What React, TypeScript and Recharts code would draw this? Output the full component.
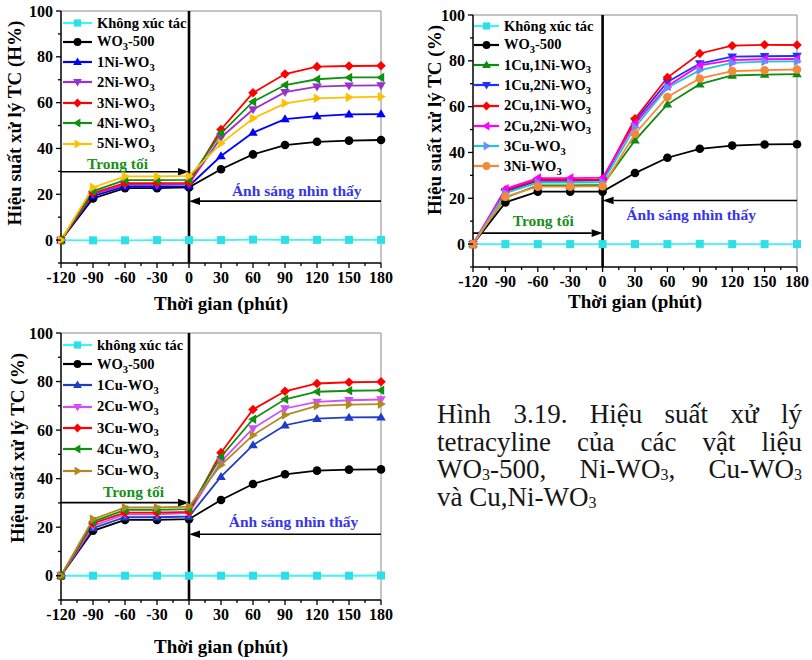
import React from 'react'
import { Legend, Line, LineChart, ReferenceDot, ReferenceLine, XAxis, YAxis } from 'recharts'

const FONT = '"Liberation Serif", "Times New Roman", Times, serif'

// thời gian (phút)
const times = [-120, -90, -60, -30, 0, 30, 60, 90, 120, 150, 180]
const xTicks = [-120, -105, -90, -75, -60, -45, -30, -15, 0, 15, 30, 45, 60, 75, 90, 105, 120, 135, 150, 165, 180]
const yTicks = [-10, 0, 10, 20, 30, 40, 50, 60, 70, 80, 90, 100]

// hình a: Ni-WO3
const khongXucTacA = [0, -0.1, -0.1, 0, 0, 0, 0.2, 0.1, 0.1, 0.1, 0.1]
const wo3A = [0, 18.2, 22.7, 22.7, 23.0, 30.9, 37.4, 41.5, 42.9, 43.4, 43.7]
const ni1 = [0, 19.2, 23.4, 23.4, 23.6, 36.7, 46.9, 52.8, 54.1, 54.9, 55.0]
const ni2 = [0, 20.0, 24.1, 24.1, 24.5, 44.8, 57.0, 64.6, 67.0, 67.4, 67.5]
const ni3 = [0, 20.6, 24.9, 24.9, 25.0, 48.3, 64.3, 72.5, 75.7, 76.0, 76.1]
const ni4 = [0, 21.4, 26.2, 26.2, 26.3, 46.6, 60.4, 67.7, 70.2, 71.0, 71.0]
const ni5 = [0, 23.0, 27.8, 27.8, 28.0, 42.2, 53.1, 59.7, 61.9, 62.3, 62.6]

// hình b: Cu,Ni-WO3
const khongXucTacB = [0, 0, 0, 0, 0, 0, 0, 0.1, 0, 0, 0]
const wo3B = [0, 18.2, 22.9, 22.9, 22.9, 31.0, 37.7, 41.6, 43.0, 43.5, 43.6]
const cu1ni1 = [0, 20.3, 25.6, 25.6, 25.8, 45.3, 61.0, 69.8, 73.6, 74.0, 74.2]
const cu1ni2 = [0, 23.0, 27.6, 27.6, 27.8, 53.7, 70.8, 78.8, 81.8, 82.0, 82.1]
const cu2ni1 = [0, 23.6, 28.0, 28.0, 28.2, 54.7, 72.7, 83.2, 86.6, 87.0, 86.9]
const cu2ni2 = [0, 24.1, 28.8, 28.8, 29.0, 52.6, 68.9, 78.0, 80.3, 80.7, 80.8]
const cu3B = [0, 22.2, 26.8, 26.8, 27.0, 51.0, 68.3, 75.9, 79.1, 79.7, 79.8]
const ni3B = [0, 20.7, 25.1, 25.1, 25.3, 48.2, 64.2, 72.3, 75.5, 75.9, 76.2]

// hình c: Cu-WO3
const khongXucTacC = [0, 0, 0, 0, 0, 0, 0, 0, 0, 0, 0.1]
const wo3C = [0, 18.5, 23.0, 23.0, 23.3, 31.2, 37.8, 41.8, 43.3, 43.7, 43.8]
const cu1 = [0, 19.6, 24.1, 24.1, 24.4, 40.8, 53.8, 62.0, 64.7, 65.2, 65.3]
const cu2 = [0, 20.5, 25.3, 25.3, 25.8, 47.0, 60.7, 68.9, 71.6, 72.3, 72.6]
const cu3 = [0, 21.6, 26.0, 26.0, 26.3, 50.7, 68.5, 76.0, 79.2, 79.7, 79.9]
const cu4 = [0, 22.3, 27.1, 27.1, 27.4, 49.0, 64.5, 72.7, 75.8, 76.2, 76.4]
const cu5 = [0, 23.3, 28.1, 28.1, 28.5, 45.6, 57.9, 66.2, 70.0, 70.5, 70.7]

// vị trí mũi tên / chữ chú thích (x phút, y %)
const darkArrowY = [29.8, 4.8, 30.1]
const lightArrowY = [17.0, 19.0, 17.1]
const darkTextPos = [[-67, 33.5], [-55, 10.2], [-52, 34.7]]
const lightTextPos = [[101, 21.8], [82, 13.1], [98, 22.3]]

type Shape = 'square' | 'circle' | 'up' | 'down' | 'diamond' | 'left' | 'right'

interface Series {
  key: string
  name: string
  values: number[]
  color: string
  marker?: string
  shape: Shape
}

const CYAN = '#3ff4f4'
const CYAN_MK = '#2ee0e6'

const seriesA: Series[] = [
  { key: 'k', name: 'Không xúc tác', values: khongXucTacA, color: CYAN, marker: CYAN_MK, shape: 'square' },
  { key: 'w', name: 'WO3-500', values: wo3A, color: '#000', shape: 'circle' },
  { key: 'n1', name: '1Ni-WO3', values: ni1, color: '#0000ff', shape: 'up' },
  { key: 'n2', name: '2Ni-WO3', values: ni2, color: '#9b30d0', shape: 'down' },
  { key: 'n3', name: '3Ni-WO3', values: ni3, color: '#ff0000', shape: 'diamond' },
  { key: 'n4', name: '4Ni-WO3', values: ni4, color: '#109010', shape: 'left' },
  { key: 'n5', name: '5Ni-WO3', values: ni5, color: '#ffc000', shape: 'right' },
]

const seriesB: Series[] = [
  { key: 'k', name: 'Không xúc tác', values: khongXucTacB, color: CYAN, marker: CYAN_MK, shape: 'square' },
  { key: 'w', name: 'WO3-500', values: wo3B, color: '#000', shape: 'circle' },
  { key: 'a', name: '1Cu,1Ni-WO3', values: cu1ni1, color: '#108a10', shape: 'up' },
  { key: 'b', name: '1Cu,2Ni-WO3', values: cu1ni2, color: '#2030ff', shape: 'down' },
  { key: 'c', name: '2Cu,1Ni-WO3', values: cu2ni1, color: '#ff0000', shape: 'diamond' },
  { key: 'd', name: '2Cu,2Ni-WO3', values: cu2ni2, color: '#ff00ff', shape: 'left' },
  { key: 'e', name: '3Cu-WO3', values: cu3B, color: '#20c8c8', marker: '#6a8cff', shape: 'right' },
  { key: 'f', name: '3Ni-WO3', values: ni3B, color: '#f28a3a', shape: 'circle' },
]

const seriesC: Series[] = [
  { key: 'k', name: 'không xúc tác', values: khongXucTacC, color: CYAN, marker: CYAN_MK, shape: 'square' },
  { key: 'w', name: 'WO3-500', values: wo3C, color: '#000', shape: 'circle' },
  { key: 'c1', name: '1Cu-WO3', values: cu1, color: '#1e3cc8', shape: 'up' },
  { key: 'c2', name: '2Cu-WO3', values: cu2, color: '#d050f8', shape: 'down' },
  { key: 'c3', name: '3Cu-WO3', values: cu3, color: '#ff0000', shape: 'diamond' },
  { key: 'c4', name: '4Cu-WO3', values: cu4, color: '#109010', shape: 'left' },
  { key: 'c5', name: '5Cu-WO3', values: cu5, color: '#b08a20', shape: 'right' },
]

function MarkerShape({ shape, cx, cy, fill, r = 4 }: { shape: Shape; cx: number; cy: number; fill: string; r?: number }) {
  if (cx == null || cy == null) return null
  const a = r + 0.8
  switch (shape) {
    case 'square':
      return <rect x={cx - r} y={cy - r} width={2 * r} height={2 * r} fill={fill} />
    case 'circle':
      return <circle cx={cx} cy={cy} r={r + 0.3} fill={fill} />
    case 'up':
      return <polygon points={`${cx},${cy - a} ${cx + a},${cy + r * 0.8} ${cx - a},${cy + r * 0.8}`} fill={fill} />
    case 'down':
      return <polygon points={`${cx},${cy + a} ${cx + a},${cy - r * 0.8} ${cx - a},${cy - r * 0.8}`} fill={fill} />
    case 'diamond':
      return <polygon points={`${cx},${cy - a} ${cx + a},${cy} ${cx},${cy + a} ${cx - a},${cy}`} fill={fill} />
    case 'left':
      return <polygon points={`${cx - a},${cy} ${cx + r * 0.8},${cy - a} ${cx + r * 0.8},${cy + a}`} fill={fill} />
    case 'right':
      return <polygon points={`${cx + a},${cy} ${cx - r * 0.8},${cy - a} ${cx - r * 0.8},${cy + a}`} fill={fill} />
  }
  return null
}

// "WO3" -> WO với số 3 viết dưới
function renderName(name: string, subSize: number) {
  const parts = name.split('WO3')
  const out: React.ReactNode[] = []
  parts.forEach((p, i) => {
    out.push(<span key={`p${i}`}>{p}</span>)
    if (i < parts.length - 1) {
      out.push(<span key={`w${i}`}>WO</span>)
      out.push(
        <span key={`s${i}`} style={{ fontSize: subSize, position: 'relative', top: subSize * 0.35 }}>
          3
        </span>,
      )
    }
  })
  return out
}

function LegendBox({ series, rowH, lineLen }: { series: Series[]; rowH: number; lineLen: number }) {
  return (
    <div style={{ fontFamily: FONT, fontWeight: 'bold', fontSize: 14.5, color: '#000', lineHeight: 1 }}>
      {series.map((s, i) => (
        <div key={s.key} style={{ display: 'flex', alignItems: 'center', height: i === 0 ? 17 : rowH }}>
          <svg width={lineLen} height={12} style={{ flex: 'none' }}>
            <line x1={0} y1={6} x2={lineLen} y2={6} stroke={s.color} strokeWidth={2.2} />
            <MarkerShape shape={s.shape} cx={lineLen / 2} cy={6} fill={s.marker ?? s.color} r={3.6} />
          </svg>
          <span style={{ marginLeft: 5, whiteSpace: 'nowrap' }}>{renderName(s.name, 10.5)}</span>
        </div>
      ))}
    </div>
  )
}

const XTick = (props: any) => {
  const { x, y, payload } = props
  const major = payload.value % 30 === 0
  return (
    <g>
      <line x1={x} y1={y} x2={x} y2={y + (major ? 5 : 3)} stroke="#000" strokeWidth={1.3} />
      {major && (
        <text x={x} y={y + 20} textAnchor="middle" fontFamily={FONT} fontWeight="bold" fontSize={16} fill="#000">
          {payload.value}
        </text>
      )}
    </g>
  )
}

const YTick = (props: any) => {
  const { x, y, payload } = props
  const major = payload.value % 20 === 0
  return (
    <g>
      <line x1={x} y1={y} x2={x - (major ? 5 : 3)} y2={y} stroke="#000" strokeWidth={1.3} />
      {major && (
        <text x={x - 8} y={y + 5.5} textAnchor="end" fontFamily={FONT} fontWeight="bold" fontSize={16} fill="#000">
          {payload.value}
        </text>
      )}
    </g>
  )
}

const arrowShape = (dir: 'left' | 'right') => (p: any) => {
  const { x1, y1, x2, y2 } = p
  const base = dir === 'right' ? x2 - 11 : x2 + 11
  return (
    <g>
      <line x1={x1} y1={y1} x2={base} y2={y2} stroke="#000" strokeWidth={1.6} />
      <polygon points={`${x2},${y2} ${base},${y2 - 3.8} ${base},${y2 + 3.8}`} fill="#000" />
    </g>
  )
}

const noteShape = (text: string, color: string) => (p: any) => (
  <text
    x={p.cx}
    y={p.cy}
    textAnchor="middle"
    dominantBaseline="central"
    fontFamily={FONT}
    fontWeight="bold"
    fontSize={15.5}
    fill={color}
  >
    {text}
  </text>
)

interface PanelProps {
  idx: number
  left: number
  top: number
  width: number
  height: number
  marginTop: number
  marginRight: number
  yAxisWidth: number
  xAxisHeight: number
  series: Series[]
  yTitle: string
  yTitleX: number
  yTitleY: number
  xTitleDy: number
  legendLeft: number
  legendTop: number
  legendRow: number
  legendLine: number
}

function Panel(props: PanelProps) {
  const { idx, series } = props
  const data = times.map((t, i) => {
    const row: Record<string, number> = { t }
    series.forEach((s) => {
      row[s.key] = s.values[i]
    })
    return row
  })

  return (
    <div style={{ position: 'absolute', left: props.left, top: props.top }}>
      <LineChart
        width={props.width}
        height={props.height}
        data={data}
        margin={{ top: props.marginTop, right: props.marginRight, left: 0, bottom: 0 }}
      >
        <XAxis
          dataKey="t"
          type="number"
          domain={[-120, 180]}
          ticks={xTicks}
          interval={0}
          tick={(p: any) => <XTick {...p} />}
          tickLine={false}
          tickSize={0}
          tickMargin={0}
          height={props.xAxisHeight}
          axisLine={{ stroke: '#000', strokeWidth: 1.5 }}
          label={(p: any) => {
            const vb = p.viewBox
            return (
              <text
                x={vb.x + vb.width / 2}
                y={vb.y + props.xTitleDy}
                textAnchor="middle"
                fontFamily={FONT}
                fontWeight="bold"
                fontSize={19}
                fill="#000"
              >
                Thời gian (phút)
              </text>
            )
          }}
        />
        <YAxis
          type="number"
          domain={[-10, 100]}
          ticks={yTicks}
          interval={0}
          tick={(p: any) => <YTick {...p} />}
          tickLine={false}
          tickSize={0}
          tickMargin={0}
          width={props.yAxisWidth}
          axisLine={{ stroke: '#000', strokeWidth: 1.5 }}
          label={() => (
            <text
              x={props.yTitleX}
              y={props.yTitleY}
              transform={`rotate(-90, ${props.yTitleX}, ${props.yTitleY})`}
              textAnchor="middle"
              fontFamily={FONT}
              fontWeight="bold"
              fontSize={19}
              fill="#000"
            >
              {props.yTitle}
            </text>
          )}
        />
        <ReferenceLine y={100} stroke="#8a8a8a" strokeWidth={1} />
        <ReferenceLine x={180} stroke="#8a8a8a" strokeWidth={1} />
        <ReferenceLine x={0} stroke="#000" strokeWidth={2.6} />
        <ReferenceLine
          segment={[
            { x: -120, y: darkArrowY[idx] },
            { x: 0, y: darkArrowY[idx] },
          ]}
          shape={arrowShape('right')}
        />
        <ReferenceLine
          segment={[
            { x: 180, y: lightArrowY[idx] },
            { x: 0, y: lightArrowY[idx] },
          ]}
          shape={arrowShape('left')}
        />
        <ReferenceDot x={darkTextPos[idx][0]} y={darkTextPos[idx][1]} shape={noteShape('Trong tối', '#1a8f1a')} />
        <ReferenceDot
          x={lightTextPos[idx][0]}
          y={lightTextPos[idx][1]}
          shape={noteShape('Ánh sáng nhìn thấy', '#3636e8')}
        />
        {series.map((s) => (
          <Line
            key={s.key}
            dataKey={s.key}
            name={s.name}
            stroke={s.color}
            strokeWidth={1.8}
            dot={(p: any) => (
              <MarkerShape key={`${s.key}-${p.index}`} shape={s.shape} cx={p.cx} cy={p.cy} fill={s.marker ?? s.color} />
            )}
            activeDot={false}
            isAnimationActive={false}
          />
        ))}
        <Legend
          layout="horizontal"
          verticalAlign="middle"
          align="center"
          wrapperStyle={{ left: props.legendLeft, top: props.legendTop, width: 230, height: 'auto' }}
          content={() => <LegendBox series={series} rowH={props.legendRow} lineLen={props.legendLine} />}
        />
      </LineChart>
    </div>
  )
}

function Caption() {
  const sub = (k: string) => (
    <span key={k} style={{ fontSize: 16, position: 'relative', top: 1.5 }}>
      3
    </span>
  )
  const lineStyle: React.CSSProperties = {
    height: 27.7,
    lineHeight: '27.7px',
    textAlign: 'justify',
    textAlignLast: 'justify',
    whiteSpace: 'nowrap',
  }
  return (
    <div
      style={{
        position: 'absolute',
        left: 437,
        top: 401,
        width: 365,
        fontFamily: FONT,
        fontSize: 27,
        color: '#161616',
      }}
    >
      <div style={lineStyle}>Hình 3.19. Hiệu suất xử lý</div>
      <div style={lineStyle}>tetracyline của các vật liệu</div>
      <div style={lineStyle}>
        WO{sub('a')}-500, Ni-WO{sub('b')}, Cu-WO{sub('c')}
      </div>
      <div style={{ ...lineStyle, textAlign: 'left', textAlignLast: 'left' }}>
        và Cu,Ni-WO{sub('d')}
      </div>
    </div>
  )
}

export default function App() {
  return (
    <div style={{ position: 'absolute', left: 0, top: 0, width: 812, height: 660, background: '#fff', overflow: 'hidden' }}>
      <Panel
        idx={0}
        left={0}
        top={0}
        width={400}
        height={320}
        marginTop={11}
        marginRight={19}
        yAxisWidth={61}
        xAxisHeight={57}
        series={seriesA}
        yTitle="Hiệu suất xử lý TC (H%)"
        yTitleX={21}
        yTitleY={123}
        xTitleDy={47}
        legendLeft={63}
        legendTop={14.5}
        legendRow={20.4}
        legendLine={29}
      />
      <Panel
        idx={1}
        left={410}
        top={0}
        width={402}
        height={320}
        marginTop={15}
        marginRight={15}
        yAxisWidth={63}
        xAxisHeight={53}
        series={seriesB}
        yTitle="Hiệu suất xử lý TC (%)"
        yTitleX={31}
        yTitleY={120}
        xTitleDy={41}
        legendLeft={64}
        legendTop={17.5}
        legendRow={20.3}
        legendLine={25}
      />
      <Panel
        idx={2}
        left={0}
        top={320}
        width={400}
        height={340}
        marginTop={13}
        marginRight={19}
        yAxisWidth={61}
        xAxisHeight={60}
        series={seriesC}
        yTitle="Hiệu suất xử lý TC (%)"
        yTitleX={24}
        yTitleY={128}
        xTitleDy={53}
        legendLeft={63}
        legendTop={16.5}
        legendRow={21.3}
        legendLine={29}
      />
      <Caption />
    </div>
  )
}
